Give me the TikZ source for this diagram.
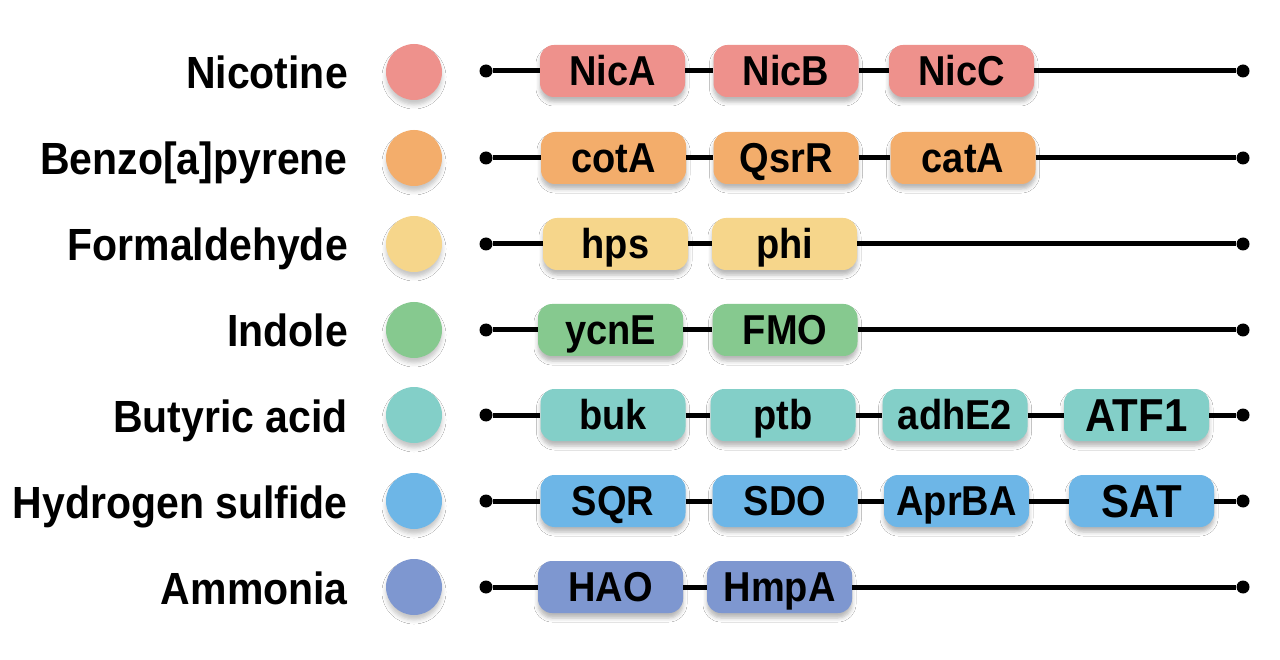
\documentclass[tikz,border=0pt]{standalone}
\usepackage{fontspec}
\setmainfont{Liberation Sans}
\usetikzlibrary{shadows.blur}
\definecolor{cNic}{HTML}{EE918C}
\definecolor{cBen}{HTML}{F3AD6B}
\definecolor{cFor}{HTML}{F6D68B}
\definecolor{cInd}{HTML}{86C98F}
\definecolor{cBut}{HTML}{83CFC8}
\definecolor{cHyd}{HTML}{6DB6E7}
\definecolor{cAmm}{HTML}{7E97D0}
\newcommand\tallx[1]{\scalebox{1}[1.1]{#1}}
\tikzset{
  lbl/.style={anchor=east, font=\fontsize{41}{41}\selectfont\bfseries, inner sep=0pt,
    text height=32pt, text depth=0pt},
  disc/.style={circle, fill=#1, minimum size=56pt, inner sep=0pt,
    blur shadow={shadow xshift=0pt, shadow yshift=-5pt, shadow blur radius=4pt, shadow opacity=22}},
  gene/.style={rounded corners=14pt, fill=#1, minimum width=145pt, minimum height=52pt, inner sep=0pt,
    font=\fontsize{38}{38}\selectfont\bfseries, text height=29pt, text depth=0pt,
    blur shadow={shadow xshift=0pt, shadow yshift=-5pt, shadow blur radius=4pt, shadow opacity=28}},
  big/.style={font=\fontsize{42}{42}\selectfont\bfseries, text height=32pt},
  dot/.style={circle, fill=black, minimum size=13pt, inner sep=0pt},
  link/.style={line width=5pt, black}
}
\begin{document}
\begin{tikzpicture}[x=1pt,y=-1pt]
\fill[white] (0,0) rectangle (1280,660);
\useasboundingbox (0,0) rectangle (1280,660);

% Row 1
\node[lbl] (l1) at (348,73) {\tallx{Nicotine}};
\node[disc=cNic] (c1) at (414,72) {};
\node[dot] (s1) at (486,71) {};
\node[dot] (e1) at (1243,71) {};
\node[gene=cNic] (g11) at (612.5,71) {\tallx{NicA}};
\node[gene=cNic] (g12) at (786,71) {\tallx{NicB}};
\node[gene=cNic] (g13) at (961.5,71) {\tallx{NicC}};
\draw[link] (s1) -- (g11) -- (g12) -- (g13) -- (e1);

% Row 2
\node[lbl] (l2) at (348,159) {\tallx{Benzo[a]pyrene}};
\node[disc=cBen] (c2) at (414,158) {};
\node[dot] (s2) at (486,158) {};
\node[dot] (e2) at (1243,158) {};
\node[gene=cBen] (g21) at (613.5,158) {\tallx{cotA}};
\node[gene=cBen] (g22) at (786,158) {\tallx{QsrR}};
\node[gene=cBen] (g23) at (963,158) {\tallx{catA}};
\draw[link] (s2) -- (g21) -- (g22) -- (g23) -- (e2);

% Row 3
\node[lbl] (l3) at (348,245) {\tallx{Formaldehyde}};
\node[disc=cFor] (c3) at (414,244) {};
\node[dot] (s3) at (486,244) {};
\node[dot] (e3) at (1243,244) {};
\node[gene=cFor] (g31) at (615.5,244) {\tallx{hps}};
\node[gene=cFor] (g32) at (784.5,244) {\tallx{phi}};
\draw[link] (s3) -- (g31) -- (g32) -- (e3);

% Row 4
\node[lbl] (l4) at (348,331) {\tallx{Indole}};
\node[disc=cInd] (c4) at (414,330) {};
\node[dot] (s4) at (486,330) {};
\node[dot] (e4) at (1243,330) {};
\node[gene=cInd] (g41) at (610.5,330) {\tallx{ycnE}};
\node[gene=cInd] (g42) at (785,330) {\tallx{FMO}};
\draw[link] (s4) -- (g41) -- (g42) -- (e4);

% Row 5
\node[lbl] (l5) at (348,416) {\tallx{Butyric acid}};
\node[disc=cBut] (c5) at (414,415) {};
\node[dot] (s5) at (486,415) {};
\node[dot] (e5) at (1243,415) {};
\node[gene=cBut] (g51) at (613,415) {\tallx{buk}};
\node[gene=cBut] (g52) at (783,415) {\tallx{ptb}};
\node[gene=cBut] (g53) at (955,415) {\tallx{adhE2}};
\node[gene=cBut, big] (g54) at (1136.5,415) {\tallx{ATF1}};
\draw[link] (s5) -- (g51) -- (g52) -- (g53) -- (g54) -- (e5);

% Row 6
\node[lbl] (l6) at (348,502) {\tallx{Hydrogen sulfide}};
\node[disc=cHyd] (c6) at (414,501) {};
\node[dot] (s6) at (486,501) {};
\node[dot] (e6) at (1243,501) {};
\node[gene=cHyd] (g61) at (613,501) {\tallx{SQR}};
\node[gene=cHyd] (g62) at (785,501) {\tallx{SDO}};
\node[gene=cHyd] (g63) at (956.5,501) {\tallx{AprBA}};
\node[gene=cHyd, big] (g64) at (1141.5,501) {\tallx{SAT}};
\draw[link] (s6) -- (g61) -- (g62) -- (g63) -- (g64) -- (e6);

% Row 7
\node[lbl] (l7) at (348,588) {\tallx{Ammonia}};
\node[disc=cAmm] (c7) at (414,587) {};
\node[dot] (s7) at (486,587) {};
\node[dot] (e7) at (1243,587) {};
\node[gene=cAmm] (g71) at (610.5,587) {\tallx{HAO}};
\node[gene=cAmm] (g72) at (779.5,587) {\tallx{HmpA}};
\draw[link] (s7) -- (g71) -- (g72) -- (e7);
\end{tikzpicture}
\end{document}
